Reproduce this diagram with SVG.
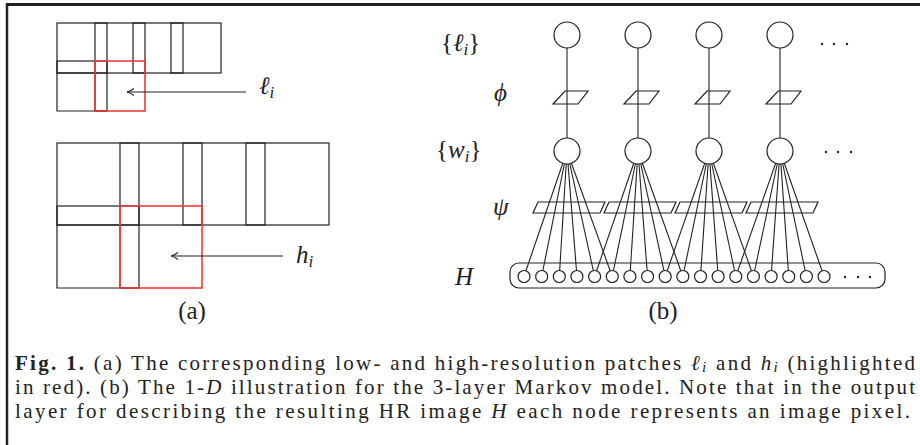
<svg xmlns="http://www.w3.org/2000/svg" width="920" height="445" viewBox="0 0 920 445">
<style>
.ln{fill:none;stroke:#222;stroke-width:1.2}
.red{fill:none;stroke:#f23a3a;stroke-width:1.6}
.nd{fill:#fff;stroke:#222;stroke-width:1.2}
.pg{fill:none;stroke:#222;stroke-width:1.2}
.dot{fill:#222}
</style>
<defs>
<marker id="ah" markerWidth="12" markerHeight="10" refX="8" refY="5" orient="auto" markerUnits="userSpaceOnUse">
<path d="M1,1.5 Q5,4.5 8,5 Q5,5.5 1,8.5" fill="none" stroke="#222" stroke-width="1.1"/>
</marker>
</defs>
<g id="frame">
<line x1="6" y1="4.5" x2="920" y2="4.5" stroke="#222" stroke-width="3"/>
<line x1="7" y1="3" x2="7" y2="445" stroke="#222" stroke-width="2.5"/>
</g>
<g id="panel-a-low">
<rect class="ln" x="57" y="23" width="164" height="50"/>
<rect class="ln" x="57" y="61" width="50" height="12"/>
<rect class="ln" x="95" y="23" width="12" height="88"/>
<rect class="ln" x="133" y="23" width="12" height="50"/>
<rect class="ln" x="171" y="23" width="12" height="50"/>
<polyline class="ln" points="57,73 57,111 107,111"/>
<rect class="red" x="95" y="61" width="50" height="50"/>
</g>
<g id="panel-a-high">
<rect class="ln" x="57" y="143" width="272" height="82"/>
<rect class="ln" x="57" y="206" width="82" height="19"/>
<rect class="ln" x="120" y="143" width="19" height="145"/>
<rect class="ln" x="183" y="143" width="19" height="82"/>
<rect class="ln" x="246" y="143" width="19" height="82"/>
<polyline class="ln" points="57,225 57,288 139,288"/>
<rect class="red" x="120" y="206" width="82" height="82"/>
</g>
<g id="arrows-a">
<line x1="246" y1="92" x2="127" y2="92" stroke="#222" stroke-width="1.1" marker-end="url(#ah)"/>
<line x1="283" y1="256" x2="171" y2="256" stroke="#222" stroke-width="1.1" marker-end="url(#ah)"/>
</g>
<g id="labels-a" fill="#222">
<text x="259" y="94" style="font-family:'Liberation Serif',serif;font-size:25px"><tspan style="font-style:italic">ℓ</tspan><tspan style="font-style:italic;font-size:17px" dy="4">i</tspan></text>
<text x="296" y="263" style="font-family:'Liberation Serif',serif;font-size:25px"><tspan style="font-style:italic">h</tspan><tspan style="font-style:italic;font-size:17px" dy="4">i</tspan></text>
<text x="192" y="319" text-anchor="middle" style="font-family:'Liberation Serif',serif;font-size:25px">(a)</text>
</g>
<g id="labels-b" fill="#222">
<text x="441" y="51" style="font-family:'Liberation Serif',serif;font-size:25px">{<tspan style="font-style:italic">ℓ</tspan><tspan style="font-style:italic;font-size:17px" dy="4">i</tspan><tspan dy="-4">}</tspan></text>
<text x="494" y="101" style="font-family:'Liberation Serif',serif;font-size:25px;font-style:italic">ϕ</text>
<text x="436" y="158" style="font-family:'Liberation Serif',serif;font-size:25px">{<tspan style="font-style:italic">w</tspan><tspan style="font-style:italic;font-size:17px" dy="4">i</tspan><tspan dy="-4">}</tspan></text>
<text x="493" y="215" style="font-family:'Liberation Serif',serif;font-size:25px;font-style:italic">ψ</text>
<text x="455" y="285" style="font-family:'Liberation Serif',serif;font-size:25px;font-style:italic">H</text>
<text x="663" y="319" text-anchor="middle" style="font-family:'Liberation Serif',serif;font-size:25px">(b)</text>
</g>
<g id="H-layer">
<rect class="ln" x="510" y="263" width="375" height="25" rx="9"/>
<circle class="dot" cx="845" cy="277" r="1.2"/>
<circle class="dot" cx="858" cy="277" r="1.2"/>
<circle class="dot" cx="870" cy="277" r="1.2"/>
</g>
<g id="potentials">
<path class="pg" d="M565,91 H588 L578,104 H553 Z"/>
<path class="pg" d="M636,91 H659 L649,104 H624 Z"/>
<path class="pg" d="M707,91 H730 L720,104 H695 Z"/>
<path class="pg" d="M778,91 H801 L791,104 H766 Z"/>
<path class="pg" d="M538,202 H605 L600,213 H533 Z"/>
<path class="pg" d="M609,202 H676 L671,213 H604 Z"/>
<path class="pg" d="M680,202 H747 L742,213 H675 Z"/>
<path class="pg" d="M751,202 H818 L813,213 H746 Z"/>
</g>
<g id="connectors" stroke="#222" stroke-width="1.1">
<line x1="567" y1="35" x2="567" y2="151"/>
<line x1="638" y1="35" x2="638" y2="151"/>
<line x1="709" y1="35" x2="709" y2="151"/>
<line x1="780" y1="35" x2="780" y2="151"/>
<line x1="567" y1="151" x2="524" y2="276.5"/>
<line x1="567" y1="151" x2="541.65" y2="276.5"/>
<line x1="567" y1="151" x2="559.3" y2="276.5"/>
<line x1="567" y1="151" x2="576.95" y2="276.5"/>
<line x1="567" y1="151" x2="594.6" y2="276.5"/>
<line x1="567" y1="151" x2="612.25" y2="276.5"/>
<line x1="638" y1="151" x2="594.6" y2="276.5"/>
<line x1="638" y1="151" x2="612.25" y2="276.5"/>
<line x1="638" y1="151" x2="629.9" y2="276.5"/>
<line x1="638" y1="151" x2="647.55" y2="276.5"/>
<line x1="638" y1="151" x2="665.2" y2="276.5"/>
<line x1="638" y1="151" x2="682.85" y2="276.5"/>
<line x1="709" y1="151" x2="665.2" y2="276.5"/>
<line x1="709" y1="151" x2="682.85" y2="276.5"/>
<line x1="709" y1="151" x2="700.5" y2="276.5"/>
<line x1="709" y1="151" x2="718.15" y2="276.5"/>
<line x1="709" y1="151" x2="735.8" y2="276.5"/>
<line x1="709" y1="151" x2="753.45" y2="276.5"/>
<line x1="780" y1="151" x2="735.8" y2="276.5"/>
<line x1="780" y1="151" x2="753.45" y2="276.5"/>
<line x1="780" y1="151" x2="771.1" y2="276.5"/>
<line x1="780" y1="151" x2="788.75" y2="276.5"/>
<line x1="780" y1="151" x2="806.4" y2="276.5"/>
<line x1="780" y1="151" x2="824.05" y2="276.5"/>
</g>
<g id="l-nodes">
<circle class="nd" cx="567" cy="35" r="13"/>
<circle class="nd" cx="638" cy="35" r="13"/>
<circle class="nd" cx="709" cy="35" r="13"/>
<circle class="nd" cx="780" cy="35" r="13"/>
<circle class="dot" cx="822" cy="44" r="1.2"/>
<circle class="dot" cx="834" cy="44" r="1.2"/>
<circle class="dot" cx="847" cy="44" r="1.2"/>
</g>
<g id="w-nodes">
<circle class="nd" cx="567" cy="151" r="13"/>
<circle class="nd" cx="638" cy="151" r="13"/>
<circle class="nd" cx="709" cy="151" r="13"/>
<circle class="nd" cx="780" cy="151" r="13"/>
<circle class="dot" cx="826" cy="152" r="1.2"/>
<circle class="dot" cx="838" cy="152" r="1.2"/>
<circle class="dot" cx="851" cy="152" r="1.2"/>
</g>
<g id="h-nodes">
<circle class="nd" cx="524" cy="276.5" r="6"/>
<circle class="nd" cx="541.65" cy="276.5" r="6"/>
<circle class="nd" cx="559.3" cy="276.5" r="6"/>
<circle class="nd" cx="576.95" cy="276.5" r="6"/>
<circle class="nd" cx="594.6" cy="276.5" r="6"/>
<circle class="nd" cx="612.25" cy="276.5" r="6"/>
<circle class="nd" cx="629.9" cy="276.5" r="6"/>
<circle class="nd" cx="647.55" cy="276.5" r="6"/>
<circle class="nd" cx="665.2" cy="276.5" r="6"/>
<circle class="nd" cx="682.85" cy="276.5" r="6"/>
<circle class="nd" cx="700.5" cy="276.5" r="6"/>
<circle class="nd" cx="718.15" cy="276.5" r="6"/>
<circle class="nd" cx="735.8" cy="276.5" r="6"/>
<circle class="nd" cx="753.45" cy="276.5" r="6"/>
<circle class="nd" cx="771.1" cy="276.5" r="6"/>
<circle class="nd" cx="788.75" cy="276.5" r="6"/>
<circle class="nd" cx="806.4" cy="276.5" r="6"/>
<circle class="nd" cx="824.05" cy="276.5" r="6"/>
</g>
<g id="caption" fill="#222">
<text x="15" y="370" textLength="900" lengthAdjust="spacing" style="font-family:'Liberation Serif',serif;font-size:21px"><tspan style="font-weight:bold">Fig. 1.</tspan> (a) The corresponding low- and high-resolution patches <tspan style="font-style:italic">ℓ</tspan><tspan style="font-style:italic;font-size:15px" dy="2">i</tspan><tspan dy="-2"> and </tspan><tspan style="font-style:italic">h</tspan><tspan style="font-style:italic;font-size:15px" dy="2">i</tspan><tspan dy="-2"> (highlighted</tspan></text>
<text x="15" y="394" textLength="900" lengthAdjust="spacing" style="font-family:'Liberation Serif',serif;font-size:21px">in red). (b) The 1-<tspan style="font-style:italic">D</tspan> illustration for the 3-layer Markov model. Note that in the output</text>
<text x="15" y="418" textLength="895" lengthAdjust="spacing" style="font-family:'Liberation Serif',serif;font-size:21px">layer for describing the resulting HR image <tspan style="font-style:italic">H</tspan> each node represents an image pixel.</text>
</g>
</svg>
